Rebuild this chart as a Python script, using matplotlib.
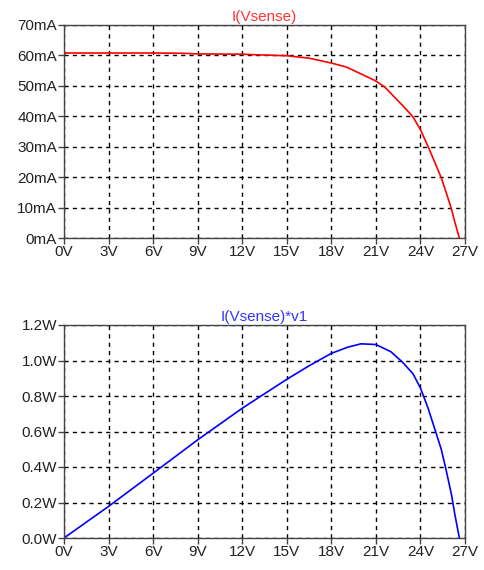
import matplotlib
matplotlib.use("Agg")
import matplotlib.pyplot as plt
from matplotlib.ticker import FuncFormatter

plt.rcParams['font.family'] = ['Liberation Sans', 'DejaVu Sans']

# Data
v_i = [0, 3, 6, 8, 9, 12, 13, 15, 16.5, 18, 19, 20.1, 21, 21.6, 22.35, 23.0, 23.5, 24, 24.5, 25.0, 25.4, 25.75, 26.1, 26.3, 26.62]
i_ma = [60.8, 60.8, 60.8, 60.7, 60.5, 60.4, 60.2, 59.9, 59.1, 57.5, 56.2, 53.7, 51.6, 49.6, 45.8, 42.5, 39.8, 35.6, 30.2, 24.5, 19.8, 14.7, 9.3, 5.5, 0.0]

v_p = [0, 3, 6, 9, 12, 15, 16.5, 18, 19.1, 20, 21, 22, 22.8, 23.5, 24, 24.5, 25.0, 25.4, 25.75, 26.1, 26.3, 26.62]
p_w = [0.0, 0.178, 0.365, 0.553, 0.731, 0.894, 0.97, 1.04, 1.075, 1.094, 1.09, 1.05, 0.99, 0.925, 0.845, 0.735, 0.605, 0.50, 0.375, 0.24, 0.14, 0.0]

x_ticks = [0, 3, 6, 9, 12, 15, 18, 21, 24, 27]
i_ticks = [0, 10, 20, 30, 40, 50, 60, 70]
p_ticks = [0.0, 0.2, 0.4, 0.6, 0.8, 1.0, 1.2]

W, H = 484, 570
fig = plt.figure(figsize=(W / 100, H / 100), dpi=100)

def style(ax):
    ax.set_xlim(0, 27)
    ax.set_xticks(x_ticks)
    ax.xaxis.set_major_formatter(FuncFormatter(lambda v, p: f"{int(round(v))}V"))
    ax.grid(True, color='black', linestyle=(0, (3, 3)), linewidth=1.0)
    for s in ax.spines.values():
        s.set_color('#444444')
        s.set_linewidth(1.0)
    ax.tick_params(axis='both', direction='out', length=4, width=1, color='#444444',
                   labelsize=11, labelcolor='#222222', pad=1)

ax1 = fig.add_axes([64 / W, 1 - 238 / H, (465 - 64) / W, (238 - 25) / H])
ax1.plot(v_i, i_ma, color='#ff0000', linewidth=1.2)
style(ax1)
ax1.set_ylim(0, 70)
ax1.set_yticks(i_ticks)
ax1.yaxis.set_major_formatter(FuncFormatter(lambda v, p: f"{int(round(v))}mA"))
ax1.set_title("I(Vsense)", color='#ff3333', fontsize=11, pad=3)

ax2 = fig.add_axes([64 / W, 1 - 538 / H, (465 - 64) / W, (538 - 325) / H])
ax2.plot(v_p, p_w, color='#0000ff', linewidth=1.2)
style(ax2)
ax2.set_ylim(0, 1.2)
ax2.set_yticks(p_ticks)
ax2.yaxis.set_major_formatter(FuncFormatter(lambda v, p: f"{v:.1f}W"))
ax2.set_title("I(Vsense)*v1", color='#3333ff', fontsize=11, pad=3)

fig.savefig("out.png", dpi=100)
